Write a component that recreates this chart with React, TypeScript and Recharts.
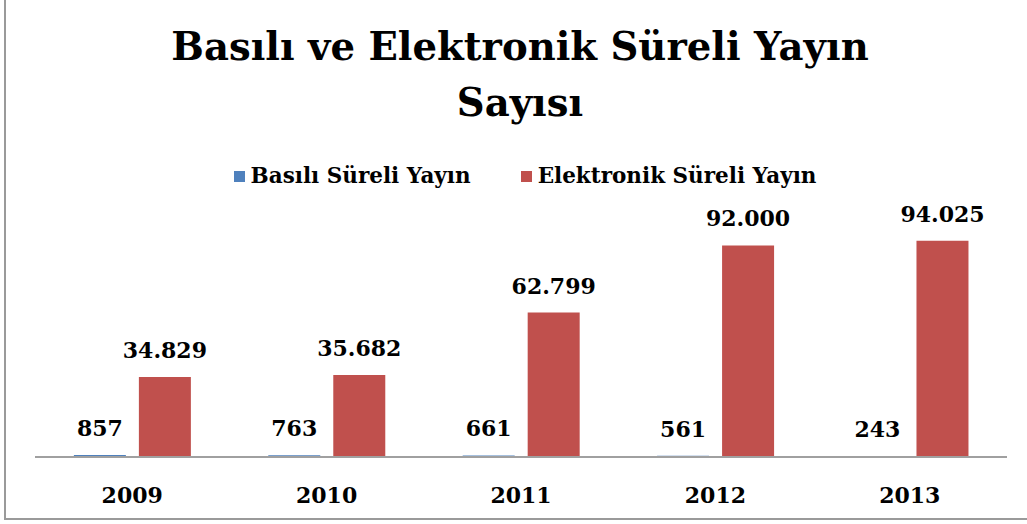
import React from 'react';
import { BarChart, Bar, XAxis, YAxis, LabelList } from 'recharts';

const years = ['2009', '2010', '2011', '2012', '2013'];
const basili = [857, 763, 661, 561, 243];
const elektronik = [34829, 35682, 62799, 92000, 94025];

const data = years.map((y, i) => ({
  name: y,
  basili: basili[i],
  elektronik: elektronik[i],
}));

const FONT = '"DejaVu Serif", "Liberation Serif", serif';
const BLUE = '#4F81BD';
const RED = '#C0504D';

// sayıları 34.829 biçiminde yaz
const fmt = (v: number) => v.toLocaleString('de-DE');

const ValueLabel = (props: any) => {
  const { x, y, width, value } = props;
  return (
    <text
      x={x + width / 2}
      y={y - 19}
      textAnchor="middle"
      fill="#000"
      fontSize={22}
      fontWeight="bold"
      fontFamily={FONT}
    >
      {fmt(value)}
    </text>
  );
};

const YearTick = (props: any) => {
  const { x, y, payload } = props;
  return (
    <text
      x={x}
      y={y + 38}
      textAnchor="middle"
      fill="#000"
      fontSize={22}
      fontWeight="bold"
      fontFamily={FONT}
    >
      {payload.value}
    </text>
  );
};

const swatch = (color: string, ml: number) => (
  <svg width={11} height={11} style={{ flexShrink: 0, marginLeft: ml, marginRight: 6 }}>
    <rect x={0} y={0} width={11} height={11} fill={color} />
  </svg>
);

export default function App() {
  return (
    <div style={{ position: 'absolute', left: 0, top: 0, width: 1027, height: 524, overflow: 'hidden', background: '#fff' }}>
      <div
        style={{
          position: 'absolute',
          left: 4,
          top: -10,
          width: 1040,
          height: 530,
          border: '2px solid #9a9a9a',
          boxSizing: 'border-box',
        }}
      />
      <div
        style={{
          position: 'absolute',
          left: 0,
          top: 19,
          width: 1040,
          textAlign: 'center',
          fontFamily: FONT,
          fontWeight: 'bold',
          fontSize: 38.6,
          lineHeight: '56px',
          color: '#000',
        }}
      >
        Basılı ve Elektronik Süreli Yayın
        <br />
        Sayısı
      </div>
      <div
        style={{
          position: 'absolute',
          left: 0,
          top: 162,
          width: 1050,
          display: 'flex',
          justifyContent: 'center',
          alignItems: 'center',
          fontFamily: FONT,
          fontWeight: 'bold',
          fontSize: 21.5,
          lineHeight: '28px',
          color: '#000',
        }}
      >
        {swatch(BLUE, 0)}
        <span>Basılı Süreli Yayın</span>
        {swatch(RED, 50)}
        <span>Elektronik Süreli Yayın</span>
      </div>
      <div style={{ position: 'absolute', left: 0, top: 0 }}>
        <BarChart
          width={1027}
          height={524}
          data={data}
          margin={{ top: 227, right: 20, bottom: 37, left: 35 }}
          barCategoryGap="20%"
          barGap={13}
        >
          <XAxis
            dataKey="name"
            height={30}
            tickLine={false}
            axisLine={{ stroke: '#a0a0a0', strokeWidth: 2 }}
            tick={<YearTick />}
            interval={0}
          />
          <YAxis hide domain={[0, 100000]} />
          <Bar dataKey="basili" name="Basılı Süreli Yayın" fill={BLUE} isAnimationActive={false}>
            <LabelList dataKey="basili" content={<ValueLabel />} />
          </Bar>
          <Bar dataKey="elektronik" name="Elektronik Süreli Yayın" fill={RED} isAnimationActive={false}>
            <LabelList dataKey="elektronik" content={<ValueLabel />} />
          </Bar>
        </BarChart>
      </div>
    </div>
  );
}
